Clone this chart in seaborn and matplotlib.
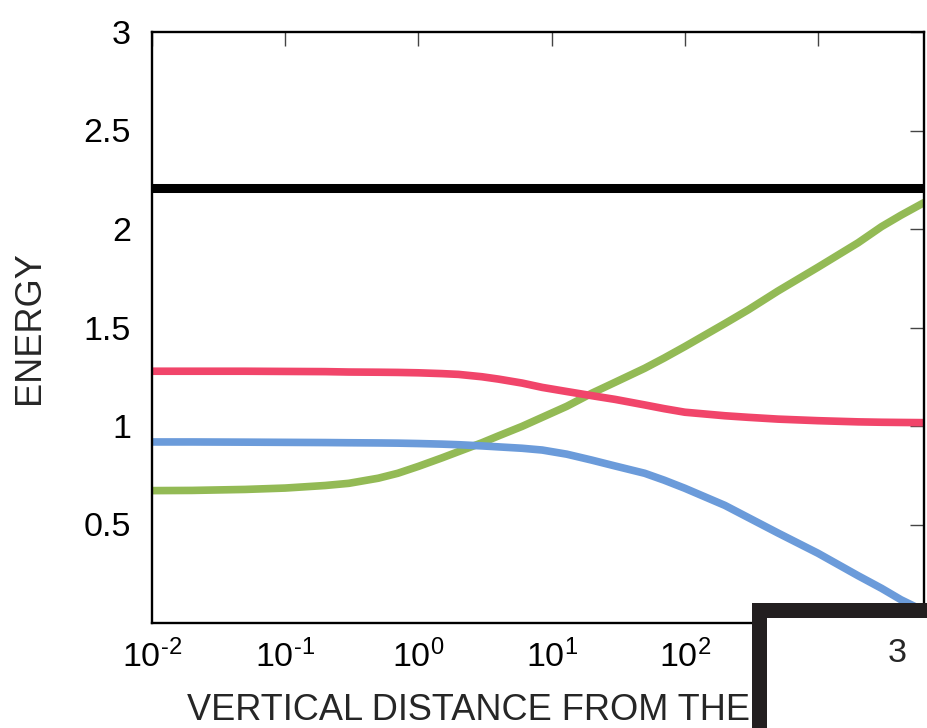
import numpy as np
import pandas as pd
import matplotlib
matplotlib.use("Agg")
import matplotlib.pyplot as plt
from matplotlib.patches import Rectangle
from matplotlib.ticker import FuncFormatter, NullLocator, FixedLocator
import seaborn as sns

# Sampled distances (log-spaced) and energies of the three curves
distance = [0.01, 0.02, 0.05, 0.1, 0.2, 0.3, 0.5, 0.7, 1, 1.5, 2, 3, 4, 6, 8.5,
            13, 20, 30, 50, 70, 100, 200, 300, 500, 1000, 2000, 3000, 4200, 6250]
energy_red = [1.278, 1.278, 1.278, 1.277, 1.276, 1.274, 1.273, 1.272, 1.270,
              1.266, 1.262, 1.250, 1.238, 1.218, 1.196, 1.175, 1.154, 1.135,
              1.107, 1.088, 1.070, 1.052, 1.044, 1.035, 1.027, 1.021, 1.019,
              1.018, 1.017]
energy_blue = [0.919, 0.919, 0.918, 0.917, 0.916, 0.915, 0.914, 0.913, 0.911,
               0.908, 0.905, 0.899, 0.894, 0.887, 0.878, 0.857, 0.827, 0.797,
               0.760, 0.725, 0.684, 0.597, 0.535, 0.457, 0.354, 0.240, 0.176,
               0.118, 0.061]
energy_green = [0.672, 0.673, 0.678, 0.685, 0.698, 0.709, 0.735, 0.760, 0.795,
                0.838, 0.870, 0.915, 0.950, 0.998, 1.044, 1.100, 1.166, 1.222,
                1.293, 1.345, 1.403, 1.520, 1.590, 1.685, 1.806, 1.930, 2.012,
                2.070, 2.134]
reference_level = 2.21

series_names = ["green", "red", "blue"]
series_colors = {"green": "#93BA55", "red": "#F1456A", "blue": "#6B9BDA"}

x_ticks = [1e-2, 1e-1, 1e0, 1e1, 1e2, 1e3]
y_ticks = [0.5, 1, 1.5, 2, 2.5, 3]
y_tick_labels = ["0.5", "1", "1.5", "2", "2.5", "3"]

df = pd.concat([
    pd.DataFrame({"distance": distance, "energy": energy_green, "series": "green"}),
    pd.DataFrame({"distance": distance, "energy": energy_red, "series": "red"}),
    pd.DataFrame({"distance": distance, "energy": energy_blue, "series": "blue"}),
], ignore_index=True)

sns.set_style("white")
plt.rcParams["font.family"] = ["Liberation Sans", "DejaVu Sans"]
plt.rcParams["mathtext.fontset"] = "custom"
plt.rcParams["mathtext.rm"] = "Liberation Sans"
plt.rcParams["mathtext.default"] = "regular"
plt.rcParams["axes.unicode_minus"] = False


def power_label(value, pos):
    exp = int(round(np.log10(value)))
    exp_txt = (r"\text{-}%d" % abs(exp)) if exp < 0 else "%d" % exp
    return r"$\mathdefault{10^{%s}}$" % exp_txt


fig = plt.figure(figsize=(9.27, 7.28), dpi=100)
ax = fig.add_axes([152 / 927, 1 - 623 / 728, (924 - 152) / 927, (623 - 32) / 728])
ax.set_xscale("log")

sns.lineplot(data=df, x="distance", y="energy", hue="series",
             hue_order=series_names, palette=series_colors, linewidth=5.5,
             sort=False, estimator=None, legend=False, ax=ax)
ax.axhline(reference_level, color="black", linewidth=6.5)

ax.set_xlim(1e-2, 6250)
ax.set_ylim(0, 3)

ax.xaxis.set_major_locator(FixedLocator(x_ticks))
ax.xaxis.set_major_formatter(FuncFormatter(power_label))
ax.xaxis.set_minor_locator(NullLocator())
ax.set_yticks(y_ticks)
ax.set_yticklabels(y_tick_labels)

ax.tick_params(which="major", direction="in", length=10, width=1.0,
               color="#444444", top=True, right=True, labelsize=24.5,
               labelcolor="black")
ax.tick_params(axis="x", pad=12)
ax.tick_params(axis="y", pad=15)

for side in ["left", "right", "top", "bottom"]:
    ax.spines[side].set_visible(True)
    ax.spines[side].set_color("black")
    ax.spines[side].set_linewidth(1.7)

ax.set_xlabel("VERTICAL DISTANCE FROM THE", fontsize=26, ha="left")
ax.xaxis.set_label_coords(0.045, -0.118)
ax.set_ylabel("ENERGY", fontsize=26)
ax.yaxis.set_label_coords(-0.136, 0.5)

# Framed panel in the lower-right corner
frame = Rectangle((758.5 / 927, -0.1), 0.3, (1 - 609.5 / 728) + 0.1,
                  transform=fig.transFigure, facecolor="white",
                  edgecolor="#231f20", linewidth=10.8, zorder=10,
                  clip_on=False)
fig.add_artist(frame)
fig.text(897 / 927, 1 - 653 / 728, "3", ha="center", va="center",
         fontsize=24.5, zorder=11)

fig.savefig("out.png", dpi=100)
